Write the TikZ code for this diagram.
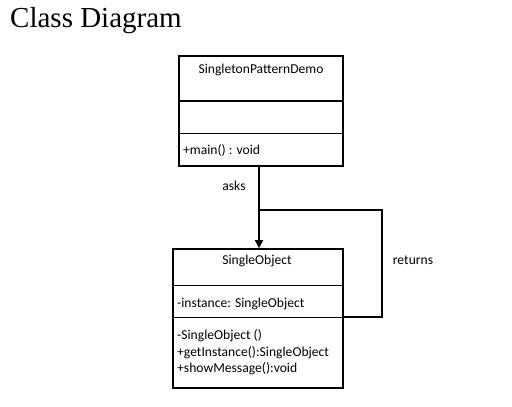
\documentclass[tikz,border=0pt]{standalone}
\usepackage{fontspec}
\setmainfont{Liberation Serif}
\newfontfamily\uifont{Carlito}
\usetikzlibrary{arrows.meta}
\begin{document}
\begin{tikzpicture}[x=1pt,y=-1pt,
  box/.style={draw=black,line width=1.6pt,inner sep=0pt,fill=white},
  septhick/.style={line width=1.3pt},
  septhin/.style={line width=0.8pt},
  conn/.style={line width=1.4pt},
  lbl/.style={font=\uifont\fontsize{13.6}{15}\selectfont,inner sep=0pt},
  txt/.style={font=\uifont\fontsize{13.6}{15}\selectfont,inner sep=0pt,anchor=base west}]
\useasboundingbox (0,0) rectangle (512,407);
\node[anchor=base west,inner sep=0pt,font=\fontsize{29}{32}\selectfont] (title) at (10,27) {Class Diagram};

% SingletonPatternDemo
\node[box,minimum width=164pt,minimum height=110pt] (demo) at (261,111) {};
\draw[septhick] (demo.west |- 0,101) -- (demo.east |- 0,101);
\draw[septhin] (demo.west |- 0,133) -- (demo.east |- 0,133);
\node[lbl] (demoname) at (261,70) {SingletonPatternDemo};
\node[txt] (demomain) at (183,154) {+main() : void};

% SingleObject
\node[box,minimum width=170pt,minimum height=139pt] (single) at (258,318.5) {};
\draw[septhin] (single.west |- 0,285) -- (single.east |- 0,285);
\draw[septhin] (single.west |- 0,317) -- (single.east |- 0,317);
\node[lbl] (singlename) at (257,261) {SingleObject};
\node[txt] (inst) at (177,307) {-instance: SingleObject};
\node[txt] (m1) at (177,339) {-SingleObject ()};
\node[txt] (m2) at (177,356) {+getInstance():SingleObject};
\node[txt] (m3) at (177,372) {+showMessage():void};

% connectors
\coordinate (askx) at (259,0);
\coordinate (retstart) at (259,210);
\coordinate (retc1) at (382,210);
\coordinate (retc2) at (382,317);
\draw[conn,-{Triangle[length=8pt,width=8pt]}] (demo.south -| askx) -- (single.north -| askx);
\draw[conn] (retstart) -- (retc1) -- (retc2) -- (single.east |- retc2);
\node[lbl] (asks) at (234,186) {asks};
\node[lbl] (returns) at (413,260) {returns};
\end{tikzpicture}
\end{document}
